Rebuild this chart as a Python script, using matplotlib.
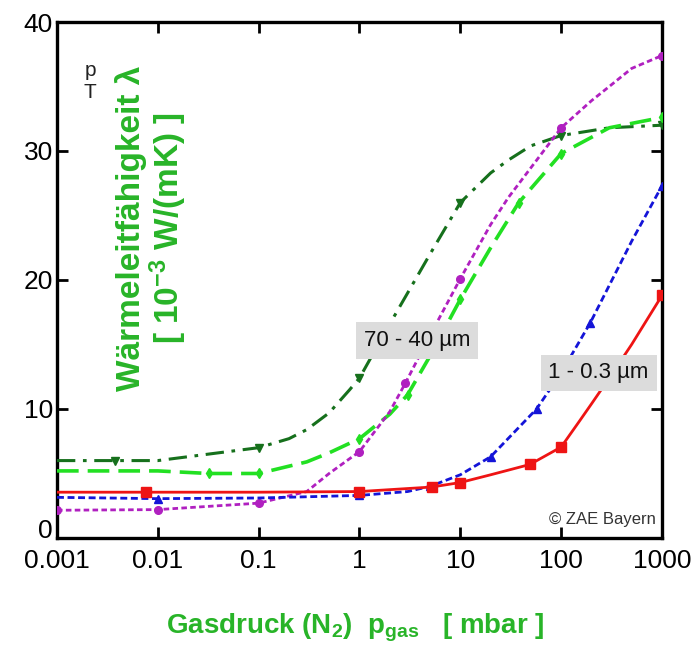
import matplotlib
matplotlib.use("Agg")
import matplotlib.pyplot as plt
from matplotlib.transforms import ScaledTranslation

# Waermeleitfaehigkeit von Pulverschuettungen ueber dem Gasdruck (N2)
# Werte in 10^-3 W/(mK), Druck in mbar

# 1 - 0.3 um, rot (durchgezogen)
red_p = [0.001, 0.0076, 0.1, 1, 5.2, 10, 20, 49, 100, 150, 200, 300, 500, 1000]
red_k = [3.55, 3.55, 3.55, 3.6, 3.95, 4.3, 4.9, 5.7, 7.05, 9.0, 10.4, 12.4, 15.0, 18.8]
red_mark = [1, 3, 4, 5, 7, 8, 13]

# 1 - 0.3 um, blau (gestrichelt)
blue_p = [0.001, 0.01, 0.1, 1, 3, 5, 10, 20, 57, 100, 195, 500, 1000]
blue_k = [3.15, 3.05, 3.1, 3.3, 3.6, 4.0, 4.9, 6.3, 10.0, 12.8, 16.7, 23.0, 27.3]
blue_mark = [1, 3, 5, 7, 8, 10, 12]

# 70 - 40 um, magenta (punktiert)
mag_p = [0.001, 0.01, 0.1, 0.3, 0.5, 1, 2, 2.85, 5, 10, 20, 30, 100, 200, 300, 500, 1000]
mag_k = [2.15, 2.2, 2.7, 3.6, 5.0, 6.7, 9.8, 12.0, 15.7, 20.1, 24.3, 26.4, 31.8, 33.9, 35.0, 36.4, 37.4]
mag_mark = [0, 1, 2, 5, 7, 9, 12, 16]

# 70 - 40 um, hellgruen (lang gestrichelt)
lgr_p = [0.001, 0.01, 0.032, 0.1, 0.3, 0.5, 1, 2, 3, 5, 10, 20, 38, 100, 300, 1000]
lgr_k = [5.2, 5.2, 5.0, 5.0, 5.9, 6.6, 7.7, 9.6, 11.1, 14.1, 18.5, 22.5, 26.0, 29.8, 31.8, 32.6]
lgr_mark = [2, 3, 6, 8, 10, 12, 13, 15]

# 70 - 40 um, dunkelgruen (Strich-Punkt)
dgr_p = [0.001, 0.0038, 0.01, 0.1, 0.2, 0.3, 0.5, 0.8, 1, 2, 5, 10, 20, 30, 50, 100, 300, 1000]
dgr_k = [6.0, 6.0, 6.0, 7.0, 7.7, 8.4, 9.7, 11.5, 12.4, 16.6, 22.0, 26.0, 28.3, 29.3, 30.4, 31.2, 31.8, 32.0]
dgr_mark = [1, 3, 8, 11, 15, 17]

xticks = [0.001, 0.01, 0.1, 1, 10, 100, 1000]
xticklabels = ["0.001", "0.01", "0.1", "1", "10", "100", "1000"]
yticks = [0, 10, 20, 30, 40]

plt.rcParams['font.family'] = ['Liberation Sans', 'DejaVu Sans']
plt.rcParams['mathtext.default'] = 'regular'

green_txt = '#28b428'

fig = plt.figure(figsize=(7, 6.51), dpi=100)
ax = fig.add_axes([0.0814, 0.1736, 0.8643, 0.7926])

ax.plot(dgr_p, dgr_k, color='#16701c', lw=2.2, ls=(0, (6, 2.5, 1.2, 2.5)),
        marker='v', ms=5.5, markevery=dgr_mark, zorder=3)
ax.plot(lgr_p, lgr_k, color='#22e022', lw=2.6, ls=(0, (6, 2.5)),
        marker='d', ms=5.5, markevery=lgr_mark, zorder=3)
ax.plot(mag_p, mag_k, color='#b020c0', lw=2.0, ls=(0, (2, 1.2)),
        marker='o', ms=5.5, markevery=mag_mark, zorder=4)
ax.plot(blue_p, blue_k, color='#1414d8', lw=2.0, ls=(0, (2.5, 1.3)),
        marker='^', ms=5.5, markevery=blue_mark, zorder=4)
ax.plot(red_p, red_k, color='#ee1414', lw=2.0, ls='-',
        marker='s', ms=6.5, markevery=red_mark, zorder=5)

ax.set_xscale('log')
ax.set_xlim(0.001, 1000)
ax.set_ylim(0, 40)
ax.set_xticks(xticks)
ax.set_xticklabels(xticklabels)
ax.set_yticks(yticks)
ax.minorticks_off()

for s in ax.spines.values():
    s.set_linewidth(2.4)
ax.tick_params(axis='both', which='major', direction='in', length=8, width=2,
               top=True, right=True, labelsize=19)
ax.tick_params(axis='x', pad=8)
ax.tick_params(axis='y', pad=3)

# die "0" an der y-Achse etwas nach oben, damit sie nicht in "0.001" haengt
fig.canvas.draw()
lab0 = ax.get_yticklabels()[0]
lab0.set_transform(lab0.get_transform() + ScaledTranslation(0, 7 / 72, fig.dpi_scale_trans))

# Achsenbeschriftungen in gruen
ax.text(0.157, 0.6, 'Wärmeleitfähigkeit λ\n[ 10$^{-3}$ W/(mK) ]',
        transform=ax.transAxes, rotation=90, ha='center', va='center',
        multialignment='center', fontsize=24, fontweight='bold',
        color=green_txt, linespacing=1.0)
fig.text(0.507, 0.036, 'Gasdruck (N$_2$)  p$_{gas}$   [ mbar ]',
         ha='center', va='center', fontsize=20, fontweight='bold', color=green_txt)

ax.text(0.055, 0.885, 'p\nT', transform=ax.transAxes, ha='center', va='center',
        fontsize=15, color='#222222', linespacing=1.2)

box = dict(boxstyle='square,pad=0.35', facecolor='#dcdcdc', edgecolor='none')
ax.text(3.75, 15.3, '70 - 40 µm', ha='center', va='center', fontsize=16,
        color='#111111', bbox=box, zorder=6)
ax.text(235, 12.8, '1 - 0.3 µm', ha='center', va='center', fontsize=16,
        color='#111111', bbox=box, zorder=6)

ax.text(0.99, 0.035, '© ZAE Bayern', transform=ax.transAxes, ha='right',
        va='center', fontsize=12, color='#333333')

fig.savefig('out.png', dpi=100, facecolor='white')
